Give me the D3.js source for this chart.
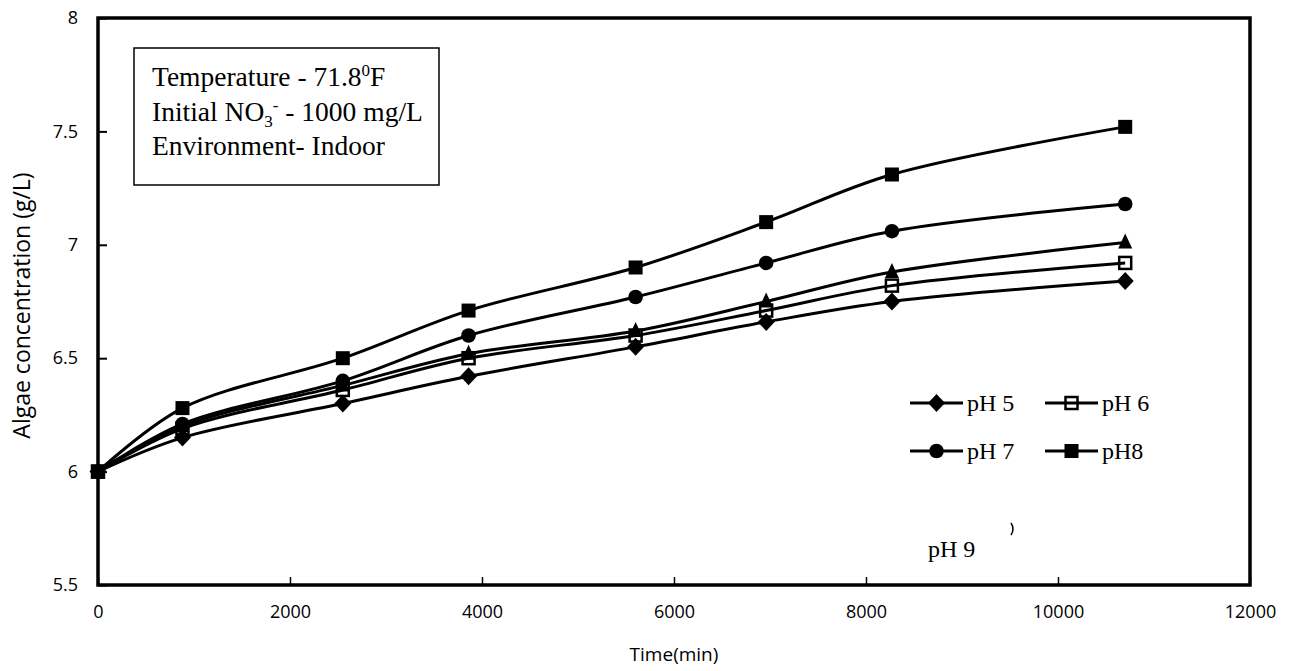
<!DOCTYPE html>
<html>
<head>
<meta charset="utf-8">
<script src="https://cdn.jsdelivr.net/npm/d3@7"></script>
<style>
  html, body { margin: 0; padding: 0; background: #fff; }
  svg { display: block; }
</style>
</head>
<body>
<svg id="chart" width="1292" height="671"></svg>
<script>
// ---- data ----
const times = [0, 880, 2550, 3860, 5600, 6960, 8270, 10700];
const pH5 = [6.00, 6.15, 6.30, 6.42, 6.55, 6.66, 6.75, 6.84];
const pH6 = [6.00, 6.19, 6.36, 6.50, 6.60, 6.71, 6.82, 6.92];
const pH7 = [6.00, 6.21, 6.40, 6.60, 6.77, 6.92, 7.06, 7.18];
const pH8 = [6.00, 6.28, 6.50, 6.71, 6.90, 7.10, 7.31, 7.52];
const pH9 = [6.00, 6.20, 6.38, 6.52, 6.62, 6.75, 6.88, 7.01];
const xTicks = [0, 2000, 4000, 6000, 8000, 10000, 12000];
const yTicks = [5.5, 6, 6.5, 7, 7.5, 8];
const seriesNames = ["pH 5", "pH 6", "pH 7", "pH8", "pH 9"];
const infoLines = ["Temperature - 71.8", "Initial NO", "Environment- Indoor"];

const series = [
  { name: seriesNames[0], values: pH5, marker: "diamond" },
  { name: seriesNames[1], values: pH6, marker: "openSquare" },
  { name: seriesNames[2], values: pH7, marker: "circle" },
  { name: seriesNames[3], values: pH8, marker: "square" },
  { name: seriesNames[4], values: pH9, marker: "triangle" }
];

const svg = d3.select("#chart");
const L = 98, R = 1250, T = 18, B = 585;
const x = d3.scaleLinear().domain([0, 12000]).range([L, R]);
const y = d3.scaleLinear().domain([5.5, 8]).range([B, T]);

const sansFont = "'Open Sans', 'DejaVu Sans', sans-serif";
const serifFont = "'Liberation Serif', 'DejaVu Serif', serif";

// Axes (ticks inward)
const xAxis = d3.axisBottom(x).tickValues(xTicks).tickSize(-8).tickPadding(20).tickFormat(d3.format("d"));
const gx = svg.append("g").attr("transform", `translate(0,${B})`).call(xAxis);
gx.select(".domain").remove();
gx.selectAll(".tick line").attr("stroke", "#000").attr("stroke-width", 1.5);
gx.selectAll(".tick text").attr("font-family", sansFont).attr("font-size", 18).attr("fill", "#000");

const yAxis = d3.axisLeft(y).tickValues(yTicks).tickSize(-9).tickPadding(20).tickFormat(d => d);
const gy = svg.append("g").attr("transform", `translate(${L},0)`).call(yAxis);
gy.select(".domain").remove();
gy.selectAll(".tick line").attr("stroke", "#000").attr("stroke-width", 2);
gy.selectAll(".tick text").attr("font-family", sansFont).attr("font-size", 18).attr("fill", "#000");

// Frame
svg.append("rect").attr("x", L).attr("y", T).attr("width", R - L).attr("height", B - T)
  .attr("fill", "none").attr("stroke", "#000").attr("stroke-width", 3.5);

// Axis titles
svg.append("text").attr("x", (L + R) / 2).attr("y", 661).attr("text-anchor", "middle")
  .attr("font-family", sansFont).attr("font-size", 19).text("Time(min)");
svg.append("text").attr("transform", `translate(30,${(T + B) / 2 + 4}) rotate(-90)`)
  .attr("text-anchor", "middle").attr("font-family", sansFont).attr("font-size", 23)
  .text("Algae concentration (g/L)");

// Markers
function drawMarker(g, type, cx, cy) {
  if (type === "diamond") {
    g.append("path").attr("d", `M${cx},${cy - 9}L${cx + 8.5},${cy}L${cx},${cy + 9}L${cx - 8.5},${cy}Z`).attr("fill", "#000");
  } else if (type === "square") {
    g.append("rect").attr("x", cx - 7).attr("y", cy - 7).attr("width", 14).attr("height", 14).attr("fill", "#000");
  } else if (type === "openSquare") {
    g.append("rect").attr("x", cx - 6).attr("y", cy - 6).attr("width", 12).attr("height", 12)
      .attr("fill", "none").attr("stroke", "#000").attr("stroke-width", 2.5);
  } else if (type === "circle") {
    g.append("circle").attr("cx", cx).attr("cy", cy).attr("r", 7.3).attr("fill", "#000");
  } else if (type === "triangle") {
    g.append("path").attr("d", `M${cx},${cy - 9}L${cx + 7},${cy + 6}L${cx - 7},${cy + 6}Z`).attr("fill", "#000");
  }
}

const line = d3.line().x(d => x(d[0])).y(d => y(d[1])).curve(d3.curveCatmullRom.alpha(0.5));
const plot = svg.append("g");
series.forEach(s => {
  const pts = times.map((t, i) => [t, s.values[i]]);
  plot.append("path").attr("d", line(pts)).attr("fill", "none").attr("stroke", "#000").attr("stroke-width", 3);
});
series.forEach(s => {
  const g = plot.append("g");
  times.forEach((t, i) => drawMarker(g, s.marker, x(t), y(s.values[i])));
});

// Legend
const legendItems = [
  { s: series[0], lx: 910, ly: 403 },
  { s: series[1], lx: 1045, ly: 403 },
  { s: series[2], lx: 910, ly: 451 },
  { s: series[3], lx: 1045, ly: 451 }
];
const lg = svg.append("g");
legendItems.forEach(it => {
  lg.append("line").attr("x1", it.lx).attr("x2", it.lx + 53).attr("y1", it.ly).attr("y2", it.ly)
    .attr("stroke", "#000").attr("stroke-width", 3);
  drawMarker(lg, it.s.marker, it.lx + 26.5, it.ly);
  lg.append("text").attr("x", it.lx + 57).attr("y", it.ly + 8).attr("font-family", serifFont)
    .attr("font-size", 24).text(it.s.name);
});
lg.append("text").attr("x", 928).attr("y", 557).attr("font-family", serifFont).attr("font-size", 24).text(series[4].name);
lg.append("path").attr("d", "M1011,523 Q1015,529 1011,535").attr("fill", "none").attr("stroke", "#000").attr("stroke-width", 1.5);

// Info box
svg.append("rect").attr("x", 134).attr("y", 48).attr("width", 305).attr("height", 137)
  .attr("fill", "#fff").attr("stroke", "#000").attr("stroke-width", 1.5);
const info = svg.append("g").attr("font-family", serifFont).attr("font-size", 27.5).attr("fill", "#000");
const t1 = info.append("text").attr("x", 152).attr("y", 86);
t1.append("tspan").text(infoLines[0]);
t1.append("tspan").attr("font-size", 17).attr("dy", -10).text("0");
t1.append("tspan").attr("dy", 10).text("F");
const t2 = info.append("text").attr("x", 152).attr("y", 121);
t2.append("tspan").text(infoLines[1]);
t2.append("tspan").attr("font-size", 17).attr("dy", 6).text("3");
t2.append("tspan").attr("font-size", 17).attr("dy", -16).text("-");
t2.append("tspan").attr("dy", 10).text(" - 1000 mg/L");
info.append("text").attr("x", 152).attr("y", 155).text(infoLines[2]);
</script>
</body>
</html>
